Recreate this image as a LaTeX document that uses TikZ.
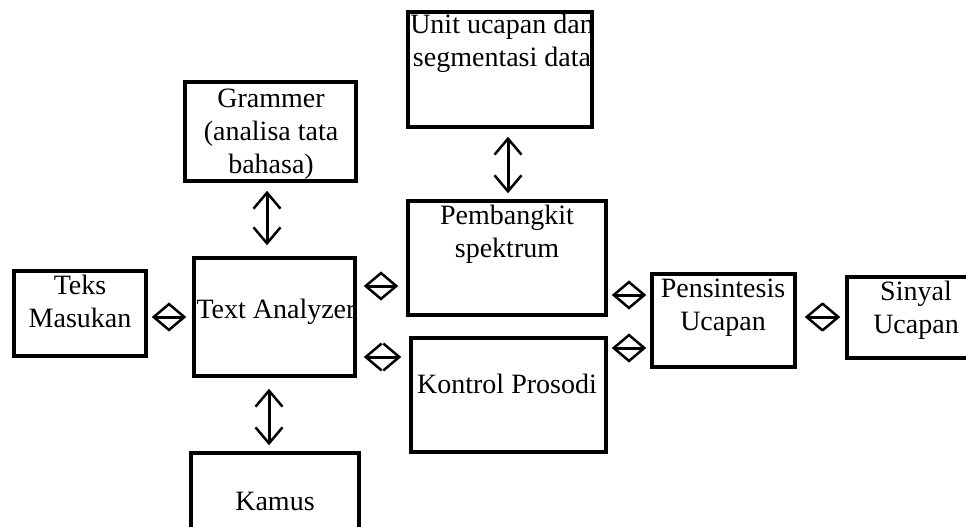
\documentclass[tikz,border=0pt]{standalone}
\usepackage{fontspec}
\setmainfont{Liberation Serif}
\usetikzlibrary{arrows.meta}
\newcommand\lbltab[1]{\begin{tabular}[t]{@{}c@{}}#1\end{tabular}}
\begin{document}
\begin{tikzpicture}[x=1pt,y=-1pt,
  box/.style={draw=black,line width=3.5pt,inner sep=0pt,fill=white},
  lbl/.style={anchor=base,inner sep=0pt,font=\fontsize{28}{33}\selectfont},
  arr/.style={line width=3pt,{Straight Barb[length=16pt,width=27pt,line width=2.5pt]}-{Straight Barb[length=16pt,width=27pt,line width=2.5pt]}}
]
\useasboundingbox (0,0) rectangle (966,527);
\clip (0,0) rectangle (966,527);
\fill[white] (0,0) rectangle (966,527);
% boxes
\node[box,minimum width=132pt,minimum height=85pt] (teks) at (80,313.5) {};
\node[box,minimum width=161pt,minimum height=118pt] (ta) at (274.5,317) {};
\node[box,minimum width=171pt,minimum height=99pt] (gram) at (270.5,131.5) {};
\node[box,minimum width=168pt,minimum height=120pt] (kamus) at (275,513) {};
\node[box,minimum width=184pt,minimum height=115pt] (unit) at (500,69.5) {};
\node[box,minimum width=198pt,minimum height=114pt] (pem) at (507,258) {};
\node[box,minimum width=195pt,minimum height=114pt] (kon) at (508.5,395) {};
\node[box,minimum width=143pt,minimum height=93pt] (pen) at (723.5,320.5) {};
\node[box,minimum width=160pt,minimum height=81pt] (sin) at (927,317.5) {};
% labels
\node[lbl] (teksT) at (80,294) {\lbltab{Teks\\Masukan}};
\node[lbl] (taT) at (276,318) {Text Analyzer};
\node[lbl] (gramT) at (271,107) {\lbltab{Grammer\\(analisa tata\\bahasa)}};
\node[lbl] (kamusT) at (275,510) {Kamus};
\node[lbl] (unitT) at (502,34) {\lbltab{Unit ucapan dan\\segmentasi data}};
\node[lbl] (pemT) at (507,224) {\lbltab{Pembangkit\\spektrum}};
\node[lbl] (konT) at (507,393) {Kontrol Prosodi};
\node[lbl] (penT) at (723,297) {\lbltab{Pensintesis\\Ucapan}};
\node[lbl] (sinT) at (916,300) {\lbltab{Sinyal\\Ucapan}};
% connectors
\draw[arr,shorten <=4pt,shorten >=6pt] (teks.east |- 0,317) -- (ta.west |- 0,317);
\draw[arr,shorten <=8pt,shorten >=11pt] (267,0 |- gram.south) -- (267,0 |- ta.north);
\draw[arr,shorten <=11pt,shorten >=6pt] (269,0 |- ta.south) -- (269,0 |- kamus.north);
\draw[arr,shorten <=8pt,shorten >=6pt] (508,0 |- unit.south) -- (508,0 |- pem.north);
\draw[arr,shorten <=7pt,shorten >=8pt] (ta.east |- 0,286) -- (pem.west |- 0,286);
\draw[arr,shorten <=7pt,shorten >=8pt] (ta.east |- 0,357) -- (kon.west |- 0,357);
\draw[arr,shorten <=4pt,shorten >=4pt] (pem.east |- 0,295) -- (pen.west |- 0,295);
\draw[arr,shorten <=4pt,shorten >=4pt] (kon.east |- 0,348) -- (pen.west |- 0,348);
\draw[arr,shorten <=8pt,shorten >=5pt] (pen.east |- 0,317) -- (sin.west |- 0,317);
\end{tikzpicture}
\end{document}
